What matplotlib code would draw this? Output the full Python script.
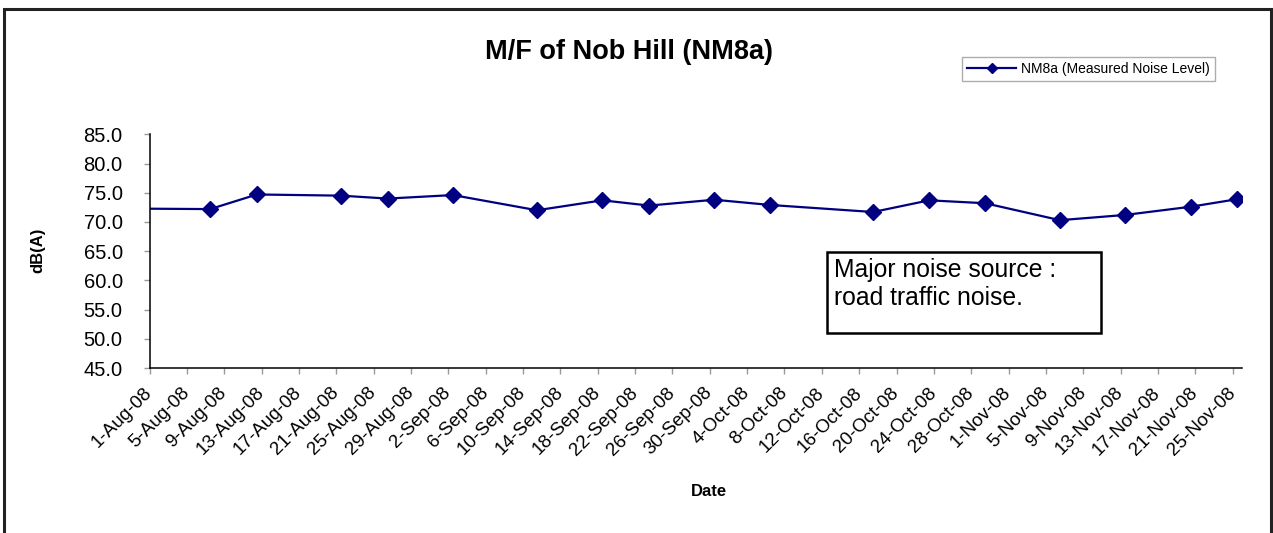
import pandas as pd
import matplotlib.pyplot as plt
from matplotlib.patches import Rectangle

plt.rcParams['font.family'] = ['Liberation Sans', 'DejaVu Sans']

# Fechas de medición y niveles medidos (dB(A))
dates = ['2008-07-28', '2008-08-07', '2008-08-12', '2008-08-21', '2008-08-26',
         '2008-09-02', '2008-09-11', '2008-09-18', '2008-09-23', '2008-09-30',
         '2008-10-06', '2008-10-17', '2008-10-23', '2008-10-29', '2008-11-06',
         '2008-11-13', '2008-11-20', '2008-11-25']
levels = [72.3, 72.2, 74.7, 74.5, 74.0, 74.6, 72.0, 73.7, 72.8, 73.8,
          72.9, 71.7, 73.7, 73.2, 70.3, 71.2, 72.6, 73.9]
series_name = 'NM8a (Measured Noise Level)'
y_ticks = [45, 50, 55, 60, 65, 70, 75, 80, 85]

W, H = 1273, 533
fig = plt.figure(figsize=(W / 100, H / 100), dpi=100)

# marco exterior del gráfico
fig.patches.append(Rectangle((4 / W, -0.05), 1267 / W, 1 - 9 / H + 0.05,
                             transform=fig.transFigure, fill=False,
                             edgecolor='#222222', lw=2.2))

ax = fig.add_axes([149.5 / W, 1 - 368 / H, (1242 - 149.5) / W, (368 - 134.3) / H])

# los puntos caen a mitad del día, como en un eje de fechas de Excel
x = pd.to_datetime(dates) + pd.Timedelta(hours=12)
ax.plot(x, levels, color='#000080', lw=1.6, marker='D', ms=8.5,
        label=series_name)

ax.set_xlim(pd.Timestamp('2008-08-01'), pd.Timestamp('2008-11-26'))
ax.set_ylim(45, 85)

ticks = pd.date_range('2008-08-01', '2008-11-25', freq='4D')
ax.set_xticks(ticks)
ax.set_xticklabels([f"{d.day}-{d.strftime('%b-%y')}" for d in ticks])
for lab in ax.get_xticklabels():
    lab.set_rotation(45)
    lab.set_ha('right')
    lab.set_va('center')
    lab.set_rotation_mode('anchor')

ax.set_yticks(y_ticks)
ax.set_yticklabels([f'{v:.1f}' for v in y_ticks])

ax.tick_params(axis='x', direction='out', length=4, width=1, color='#999999',
               labelsize=13.5, pad=12)
ax.tick_params(axis='y', direction='out', length=4.3, width=1, color='#999999',
               labelsize=14.5, pad=15)

for s in ['top', 'right']:
    ax.spines[s].set_visible(False)
for s in ['left', 'bottom']:
    ax.spines[s].set_linewidth(1.1)
    ax.spines[s].set_color('black')

# títulos y etiquetas
fig.text(629 / W, 1 - 52 / H, 'M/F of Nob Hill (NM8a)', ha='center',
         va='center', fontsize=19.5, fontweight='bold')
fig.text(709 / W, 1 - 491 / H, 'Date', ha='center', va='center',
         fontsize=12, fontweight='bold')
fig.text(38 / W, 1 - 250 / H, 'dB(A)', ha='center', va='center',
         rotation=90, fontsize=12, fontweight='bold')

leg = ax.legend(loc='upper right', bbox_to_anchor=(1215 / W, 1 - 57 / H),
                bbox_transform=fig.transFigure, fontsize=10, frameon=True,
                fancybox=False, borderpad=0.35, handlelength=3.5,
                handletextpad=0.4, markerscale=0.6, borderaxespad=0)
leg.get_frame().set_edgecolor('#999999')
leg.get_frame().set_linewidth(1)

# recuadro de nota
fig.patches.append(Rectangle((827 / W, 1 - 333 / H), 274 / W, 81 / H,
                             transform=fig.transFigure, fill=True,
                             facecolor='white', edgecolor='black', lw=1.8,
                             zorder=5))
fig.text(834 / W, 1 - 258 / H, 'Major noise source :\nroad traffic noise.',
         ha='left', va='top', fontsize=17.8, linespacing=1.2, zorder=6)

fig.savefig('out.png', dpi=100)
